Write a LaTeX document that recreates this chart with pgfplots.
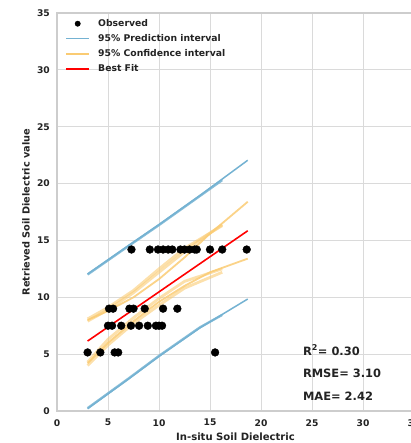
\documentclass[border=0pt]{standalone}
\usepackage{pgfplots}
\pgfplotsset{compat=1.18}
\usepackage{fontspec}
\setmainfont{DejaVu Sans}

\definecolor{predblue}{RGB}{116,178,210}
\definecolor{confyellow}{RGB}{250,203,115}
\definecolor{gridgray}{RGB}{218,218,218}
\definecolor{framegray}{RGB}{205,205,205}
\definecolor{textdark}{RGB}{35,35,35}

\begin{document}
\begin{tikzpicture}
\begin{axis}[
  at={(0,0)}, anchor=south west,
  scale only axis,
  width=357bp, height=398bp,
  xmin=0, xmax=35, ymin=0, ymax=35,
  xtick={0,5,...,35}, ytick={0,5,...,35},
  grid=major,
  major grid style={gridgray, line width=1bp},
  axis line style={framegray, line width=1.2bp},
  major tick length=0pt,
  /pgf/number format/assume math mode=true,
  ticklabel style={font=\fontsize{9.2}{10}\selectfont\bfseries, text=textdark, inner sep=0pt},
  yticklabel style={xshift=-7bp},
  xticklabel style={yshift=-8bp},
  xlabel={In-situ Soil Dielectric},
  ylabel={Retrieved Soil Dielectric value},
  every axis x label/.style={at={(axis description cs:0.5,0)}, yshift=-26bp,
    anchor=center, font=\fontsize{10.1}{12}\selectfont\bfseries, text=textdark},
  every axis y label/.style={at={(axis description cs:0,0.5)}, xshift=-31bp,
    rotate=90, anchor=center, font=\fontsize{9.8}{12}\selectfont\bfseries, text=textdark},
  legend cell align=left,
  legend style={draw=none, fill=none, at={(0,1)}, anchor=north west,
    xshift=8bp, yshift=-6bp, inner sep=0pt, row sep=6bp,
    font=\fontsize{9.3}{11}\selectfont\bfseries, text=textdark,
    nodes={inner sep=0pt, text height=7bp, text depth=2bp}},
  legend image code/.code={\draw[mark repeat=2,mark phase=2,#1]
    plot coordinates {(0bp,0bp) (11.5bp,0bp) (23bp,0bp)};},
  /tikz/every odd column/.append style={column sep=8bp},
]

% legend entries
\addlegendimage{only marks, mark=*, mark size=2.7bp, black}
\addlegendentry{Observed}
\addlegendimage{predblue, line width=1.5bp}
\addlegendentry{95\% Prediction interval}
\addlegendimage{confyellow, line width=2bp}
\addlegendentry{95\% Confidence interval}
\addlegendimage{red, line width=1.8bp}
\addlegendentry{Best Fit}

% observed pairs
\addplot[only marks, mark=*, mark size=3.9bp, black, forget plot] coordinates {
  (7.3,14.2) (9.1,14.2) (9.9,14.2) (10.4,14.2) (10.9,14.2) (11.3,14.2)
  (12.1,14.2) (12.5,14.2) (13.0,14.2) (13.5,14.2) (13.7,14.2) (15.0,14.2)
  (16.2,14.2) (18.6,14.2)
  (5.1,9.0) (5.5,9.0) (7.1,9.0) (7.5,9.0) (8.6,9.0) (10.4,9.0) (11.8,9.0)
  (5.0,7.5) (5.4,7.5) (6.3,7.5) (7.25,7.5) (8.05,7.5) (8.9,7.5) (9.7,7.5)
  (10.0,7.5) (10.3,7.5)
  (3.0,5.15) (4.25,5.15) (5.65,5.15) (6.0,5.15) (15.5,5.15)
};

% 95% prediction interval
\addplot[predblue, line width=1.5bp, forget plot] coordinates {
  (3,12.05) (7,14.55) (10,16.4) (14,18.95) (18.7,22.05)};
\addplot[predblue, line width=2.3bp, opacity=0.85, forget plot] coordinates {
  (3,12.0) (7,14.5) (10,16.35) (14,18.9) (16.2,20.3)};
\addplot[predblue, line width=1.5bp, forget plot] coordinates {
  (3,0.2) (7,2.8) (10,4.8) (14,7.3) (18.7,9.85)};
\addplot[predblue, line width=2.3bp, opacity=0.85, forget plot] coordinates {
  (3,0.25) (7,2.85) (10,4.85) (14,7.35) (16.2,8.45)};

% 95% confidence interval (several overlapping estimates)
\addplot[confyellow, line width=1.8bp, opacity=0.85, forget plot] coordinates {
  (3,8.0) (5,8.8) (7.5,10.0) (10,11.6) (12.5,13.5) (15,15.6) (18.7,18.4)};
\addplot[confyellow, line width=2.8bp, opacity=0.6, forget plot] coordinates {
  (3,7.9) (5,8.9) (7.5,10.4) (10,12.2) (12.5,14.0) (14,15.0) (16.2,16.4)};
\addplot[confyellow, line width=2.8bp, opacity=0.6, forget plot] coordinates {
  (3,8.1) (5,9.1) (7.5,10.6) (10,12.5) (12.5,14.3) (16.2,16.3)};
\addplot[confyellow, line width=1.8bp, opacity=0.85, forget plot] coordinates {
  (3,4.2) (5,6.0) (7.5,7.9) (10,9.6) (12.5,11.0) (15,12.2) (18.7,13.4)};
\addplot[confyellow, line width=2.8bp, opacity=0.6, forget plot] coordinates {
  (3,4.3) (5,6.3) (7.5,8.2) (10,9.9) (12.5,11.4) (16.2,12.5)};
\addplot[confyellow, line width=2.8bp, opacity=0.6, forget plot] coordinates {
  (3,4.0) (5,5.8) (7.5,7.7) (10,9.3) (12.5,10.8) (16.2,12.2)};

% best fit
\addplot[red, line width=1.6bp, forget plot] coordinates {(3,6.15) (18.7,15.85)};

% goodness-of-fit summary
\node[anchor=west, inner sep=0pt, font=\fontsize{11.5}{13}\selectfont\bfseries, text=textdark]
  at (axis cs:24.1,5.37) {R\textsuperscript{2}= 0.30};
\node[anchor=west, inner sep=0pt, font=\fontsize{11.5}{13}\selectfont\bfseries, text=textdark]
  at (axis cs:24.1,3.34) {RMSE= 3.10};
\node[anchor=west, inner sep=0pt, font=\fontsize{11.5}{13}\selectfont\bfseries, text=textdark]
  at (axis cs:24.1,1.32) {MAE= 2.42};
\end{axis}
\pgfresetboundingbox
\path[use as bounding box] (-57bp,-32bp) rectangle (354bp,411bp);
\end{tikzpicture}
\end{document}
